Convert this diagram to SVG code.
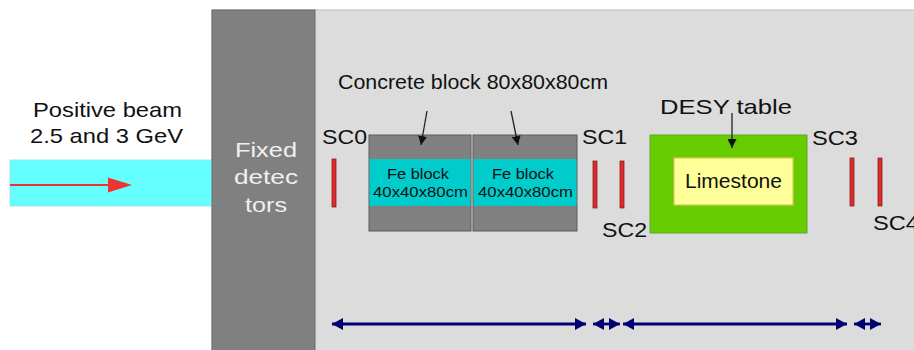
<svg xmlns="http://www.w3.org/2000/svg" width="914" height="350" viewBox="0 0 914 350">
<style>
text{font-family:"Liberation Sans",Arial,sans-serif;fill:#111}
.lbl{font-size:21px}
.sc{font-size:20px}
.fe{font-size:15.5px;text-anchor:start}
.wt{fill:#f0f0f0;font-size:21px}
.bar{fill:#dd2a2a;stroke:#8a2020;stroke-width:0.8}
.conc{fill:#808080;stroke:#5a5a5a;stroke-width:1}
.cyan{fill:#00cccc}
.dim{stroke:#000070;stroke-width:2.8;fill:none;marker-start:url(#nav);marker-end:url(#nav)}
.ptr{stroke:#222;stroke-width:1.3;fill:none;marker-end:url(#blk)}
</style>
<defs>
<marker id="nav" viewBox="0 0 10 10" refX="10" refY="5" markerUnits="userSpaceOnUse" markerWidth="11" markerHeight="12" preserveAspectRatio="none" orient="auto-start-reverse">
<path d="M0,0 L10,5 L0,10 Z" fill="#000070"/>
</marker>
<marker id="blk" viewBox="0 0 10 10" refX="10" refY="5" markerUnits="userSpaceOnUse" markerWidth="9" markerHeight="9" orient="auto">
<path d="M0,0 L10,5 L0,10 Z" fill="#111"/>
</marker>
</defs>
<rect width="914" height="350" fill="#ffffff"/>
<g id="hall">
<rect x="212" y="10" width="710" height="350" fill="#dcdcdc" stroke="#c4c4c4" stroke-width="1.2"/>
</g>
<g id="beam">
<rect x="10" y="160" width="202" height="46" fill="#66ffff" stroke="#99e0e0" stroke-width="0.8"/>
<line x1="10" y1="185" x2="110" y2="185" stroke="#ee3333" stroke-width="2"/>
<polygon points="108,177.5 132,185 108,192.5" fill="#ee3333"/>
<text class="lbl" x="33" y="117" textLength="149" lengthAdjust="spacingAndGlyphs">Positive beam</text>
<text class="lbl" x="30" y="143" textLength="153" lengthAdjust="spacingAndGlyphs">2.5 and 3 GeV</text>
</g>
<g id="fixed-detectors">
<rect x="212" y="10" width="103" height="345" fill="#808080" stroke="#6a6a6a" stroke-width="1"/>
<text class="wt" x="235" y="157" textLength="62" lengthAdjust="spacingAndGlyphs">Fixed</text>
<text class="wt" x="234" y="184" textLength="64" lengthAdjust="spacingAndGlyphs">detec</text>
<text class="wt" x="245" y="212" textLength="42" lengthAdjust="spacingAndGlyphs">tors</text>
</g>
<g id="concrete-label">
<text class="lbl" x="338" y="89" font-size="20" textLength="270" lengthAdjust="spacingAndGlyphs">Concrete block 80x80x80cm</text>
</g>
<g id="block1">
<rect class="conc" x="369" y="135" width="102" height="96"/>
<rect class="cyan" x="369.5" y="159" width="101" height="47"/>
<text class="fe" x="387" y="179" textLength="62" lengthAdjust="spacingAndGlyphs">Fe block</text>
<text class="fe" x="373" y="197" textLength="95" lengthAdjust="spacingAndGlyphs">40x40x80cm</text>
</g>
<g id="block2">
<rect class="conc" x="473" y="135" width="104" height="96"/>
<rect class="cyan" x="473.5" y="159" width="103" height="47"/>
<text class="fe" x="492" y="179" textLength="62" lengthAdjust="spacingAndGlyphs">Fe block</text>
<text class="fe" x="478" y="197" textLength="95" lengthAdjust="spacingAndGlyphs">40x40x80cm</text>
</g>
<g id="desy-table">
<rect x="650" y="135" width="157" height="98" fill="#66cc00" stroke="#5aa82a" stroke-width="1"/>
<text class="lbl" x="660" y="114" textLength="132" lengthAdjust="spacingAndGlyphs">DESY table</text>
</g>
<g id="limestone">
<rect x="674" y="158" width="119" height="47" fill="#ffff99" stroke="#d8c860" stroke-width="1.2"/>
<text x="685" y="188" font-size="20" textLength="97" lengthAdjust="spacingAndGlyphs">Limestone</text>
</g>
<g id="SC0">
<rect class="bar" x="332" y="159" width="4" height="48"/>
<text class="sc" x="322" y="144" textLength="45" lengthAdjust="spacingAndGlyphs">SC0</text>
</g>
<g id="SC1">
<rect class="bar" x="593" y="161" width="4" height="47"/>
<text class="sc" x="582" y="144" textLength="45" lengthAdjust="spacingAndGlyphs">SC1</text>
</g>
<g id="SC2">
<rect class="bar" x="620" y="161" width="4" height="47"/>
<text class="sc" x="602" y="237" textLength="45" lengthAdjust="spacingAndGlyphs">SC2</text>
</g>
<g id="SC3">
<rect class="bar" x="850" y="158" width="4" height="48"/>
<text class="sc" x="812" y="145" textLength="46" lengthAdjust="spacingAndGlyphs">SC3</text>
</g>
<g id="SC4">
<rect class="bar" x="878" y="158" width="4" height="48"/>
<text class="sc" x="873" y="230" textLength="46" lengthAdjust="spacingAndGlyphs">SC4</text>
</g>
<g id="connectors">
<line class="ptr" x1="427" y1="111" x2="421" y2="145"/>
<line class="ptr" x1="511" y1="111" x2="518" y2="145"/>
<line class="ptr" x1="732" y1="113" x2="732" y2="148"/>
<line class="dim" x1="332" y1="324" x2="586" y2="324"/>
<line class="dim" x1="593" y1="324" x2="620" y2="324"/>
<line class="dim" x1="623" y1="324" x2="847" y2="324"/>
<line class="dim" x1="854" y1="324" x2="881" y2="324"/>
</g>
</svg>
